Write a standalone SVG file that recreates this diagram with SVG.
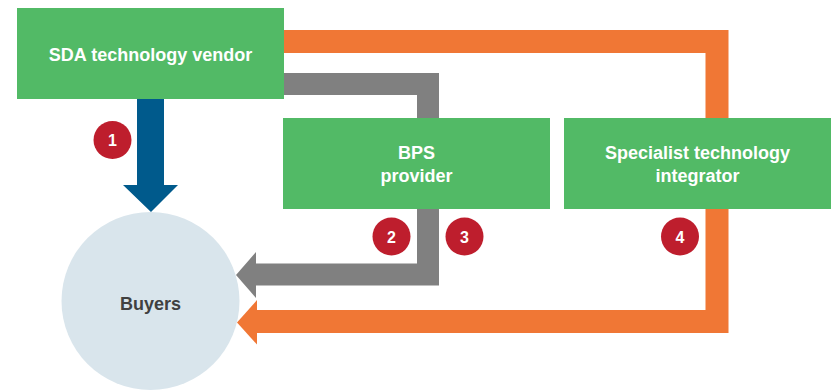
<svg xmlns="http://www.w3.org/2000/svg" width="831" height="391" viewBox="0 0 831 391">
  <style>
    .box { fill: #52BA66; }
    .boxtxt { font-family: "Liberation Sans", Arial, sans-serif; font-weight: bold; font-size: 18px; fill: #FFFFFF; text-anchor: middle; }
    .badge { fill: #BE1E2D; }
    .badgetxt { font-family: "Liberation Sans", Arial, sans-serif; font-weight: bold; font-size: 16px; fill: #FFFFFF; text-anchor: middle; }
    .band { fill: none; stroke-linejoin: miter; stroke-linecap: butt; }
  </style>
  <rect width="831" height="391" fill="#FFFFFF"/>

  <g id="connectors">
    <!-- orange: vendor to buyers via integrator -->
    <polyline class="band" points="284,41.5 717,41.5 717,321.5 255,321.5" stroke="#F07735" stroke-width="23"/>
    <polygon points="237,322.5 257,300 257,344.5" fill="#F07735"/>
    <!-- grey: vendor to buyers via BPS provider -->
    <polyline class="band" points="284,84 428,84 428,274.5 255,274.5" stroke="#808080" stroke-width="22"/>
    <polygon points="236,275 256,252 256,298" fill="#808080"/>
    <!-- blue: vendor directly to buyers -->
    <polygon points="137,99 164,99 164,185 178,185 151,212 123,185 137,185" fill="#005A8C"/>
  </g>

  <g id="sda-vendor">
    <rect class="box" x="17" y="8" width="267" height="91"/>
    <text class="boxtxt" x="150.5" y="61">SDA technology vendor</text>
  </g>

  <g id="bps-provider">
    <rect class="box" x="283" y="118" width="267" height="91"/>
    <text class="boxtxt" x="416.5" y="159">BPS</text>
    <text class="boxtxt" x="416.5" y="182">provider</text>
  </g>

  <g id="specialist-integrator">
    <rect class="box" x="564" y="118" width="267" height="91"/>
    <text class="boxtxt" x="697.5" y="159">Specialist technology</text>
    <text class="boxtxt" x="697.5" y="182">integrator</text>
  </g>

  <g id="buyers">
    <circle cx="150.5" cy="301" r="89" fill="#D9E5EC"/>
    <text x="150.5" y="310" font-family="Liberation Sans, Arial, sans-serif" font-weight="bold" font-size="18" fill="#404040" text-anchor="middle">Buyers</text>
  </g>

  <g id="badges">
    <circle class="badge" cx="112.5" cy="140" r="19"/>
    <text class="badgetxt" x="112.5" y="146">1</text>
    <circle class="badge" cx="391.5" cy="236.5" r="19"/>
    <text class="badgetxt" x="391.5" y="242.5">2</text>
    <circle class="badge" cx="464.5" cy="236.5" r="19"/>
    <text class="badgetxt" x="464.5" y="242.5">3</text>
    <circle class="badge" cx="680" cy="236.5" r="19"/>
    <text class="badgetxt" x="680" y="242.5">4</text>
  </g>
</svg>
